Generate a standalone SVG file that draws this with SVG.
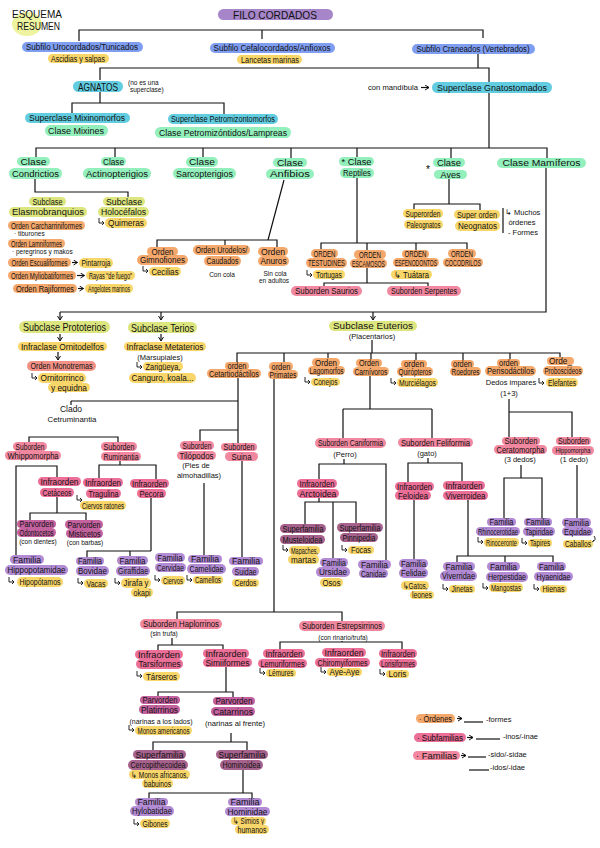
<svg xmlns="http://www.w3.org/2000/svg" width="600" height="848" viewBox="0 0 600 848">
<style>
text{font-family:"Liberation Sans Narrow","Liberation Sans",Arial,sans-serif;font-size:8.5px;fill:#111;text-anchor:middle}
.l{text-anchor:start}
.s{font-size:6.5px}
.m{font-size:7.5px}
.b{font-size:10.5px}
.pu{fill:#a685c9}.bl{fill:#7f9ef2}.ye{fill:#f9d66a}.cy{fill:#62cde0}.mi{fill:#93f0bc}.yg{fill:#dde67e}
.or{fill:#f5a86c}.sa{fill:#f39187}.p1{fill:#f1889f}.p2{fill:#ec6f98}.pv{fill:#c4619f}.sf{fill:#a6628c}.fa{fill:#b28bd4}
.c{fill:none;stroke:#111;stroke-width:1.2}
.h{fill:none;stroke:#111;stroke-width:0.9}
</style>
<defs>
<marker id="ar" viewBox="0 0 6 6" refX="5" refY="3" markerWidth="5" markerHeight="5" orient="auto"><path d="M1,0.5 L5,3 L1,5.5" fill="none" stroke="#111" stroke-width="1"/></marker>
<symbol id="hk" overflow="visible"><path class="h" d="M0,-5 V0 H5 M3,-2 L5,0 L3,2"/></symbol>
</defs>
<rect width="600" height="848" fill="#fff"/>

<g id="title">
<ellipse cx="27" cy="24" rx="15" ry="12" fill="#eef3a0"/>
<text class="l b" x="12" y="18" textLength="50" lengthAdjust="spacingAndGlyphs">ESQUEMA</text>
<text class="l b" x="17" y="30" textLength="43" lengthAdjust="spacingAndGlyphs">RESUMEN</text>
</g>

<g id="connectors">
<path class="c" d="M79,41 V30 H483 V38 M262,30 V39"/>
<path class="c" d="M478,54 V68 M100,80 V68 H489 V82"/>
<path class="c" d="M100,92 V103 M72,113 V103 H224 V114"/>
<path class="c" d="M489,93 V148 M36,157 V148 H547 V158 M115,148 V157 M203,148 V157 M291,148 V158 M357,148 V157 M451,148 V158"/>
<path class="c" d="M35,179 V192 H128 V197"/>
<path class="c" d="M284,180 L268,240 M157,247 V240 H277 V247 M225,240 V245"/>
<path class="c" d="M357,178 V243 M321,249 V243 H467 V249 M367,243 V250 M416,243 V250"/>
<path class="c" d="M367,267 V283 M324,287 V283 H428 V287"/>
<path class="c" d="M449,179 V204 M414,209 V204 H480 V210"/>
<path class="c" d="M503,208 V233"/>
<path class="c" d="M546,168 V312 H60"/>
<path class="c" d="M60,312 V320" marker-end="url(#ar)"/>
<path class="c" d="M161,312 V320" marker-end="url(#ar)"/>
<path class="c" d="M373,312 V320" marker-end="url(#ar)"/>
<path class="c" d="M60,334 V341" marker-end="url(#ar)"/>
<path class="c" d="M58,352 V360" marker-end="url(#ar)"/>
<path class="c" d="M161,334 V341" marker-end="url(#ar)"/>
<path class="c" d="M72,262.5 H77.5" marker-end="url(#ar)"/>
<path class="c" d="M77,275.5 H84.5" marker-end="url(#ar)"/>
<path class="c" d="M78,288.5 H83.5" marker-end="url(#ar)"/>
<path class="c" d="M421,87.5 H429" marker-end="url(#ar)"/>
<path class="c" d="M372,340 V353 M237,362 V353 H560 V358 M284,353 V362 M328,353 V358 M371,353 V359 M416,353 V360 M463,353 V360 M510,353 V359"/>
<path class="c" d="M238,378 V443 M71,401 H238 M71,401 V405 M200,441 V430 H238"/>
<path class="c" d="M29,442 V437 H118 V442"/>
<path class="c" d="M16,555 V466 H57 V477 M57,497 V513 M30,520 V513 H86 V520"/>
<path class="c" d="M120,461 V465 M99,478 V465 H156 V479"/>
<path class="c" d="M151,498 V551 M87,557 V551 H151 M130,551 V556"/>
<path class="c" d="M204,483 V555 M242,461 V557"/>
<path class="c" d="M274,379 V612 M177,620 V612 H342 V621"/>
<path class="c" d="M172,638 V645 M158,650 V645 H223 V649 M226,667 V692 M158,696 V692 H233 V697"/>
<path class="c" d="M231,733 V742 M153,750 V742 H247 V750 M243,770 V793 M149,798 V793 H252 V798"/>
<path class="c" d="M342,641 V642 M280,649 V642 H402 V649"/>
<path class="c" d="M370,376 V409 M343,409 H432 M343,409 V438 M432,409 V438"/>
<path class="c" d="M344,459 V464 M319,479 V464 H386 V560 M319,498 V502 M305,524 V502 H356 V523 M333,502 V558"/>
<path class="c" d="M428,458 V463 M408,482 V463 H462 V481 M414,500 V559"/>
<path class="c" d="M468,500 V556 M457,562 V556 H553 V562 M505,556 V562"/>
<path class="c" d="M509,399 V437 M509,412 H572 V437 M521,465 V478 M504,518 V478 H542 V518 M577,465 V518"/>
<path class="h" d="M594,536 q3,4 -2,6 M590,540 l2,2 l2,-2"/>
<path class="c" d="M457,718.5 H462" marker-end="url(#ar)"/>
<path class="c" d="M467,737.5 H473" marker-end="url(#ar)"/>
<path class="c" d="M461,755.5 H466" marker-end="url(#ar)"/>
</g>

<g id="n-filo"><rect class="pu" x="218" y="9" width="115" height="11" rx="5.5"/><text class="b" x="275" y="18.5" textLength="84" lengthAdjust="spacingAndGlyphs">FILO CORDADOS</text></g>
<g id="n-uro"><rect class="bl" x="22" y="42" width="121" height="10" rx="5"/><text x="82" y="50" textLength="112" lengthAdjust="spacingAndGlyphs">Subfilo Urocordados/Tunicados</text></g>
<g id="n-ascidias"><rect class="ye" x="48" y="54" width="61" height="9" rx="4.5"/><text x="78" y="61.5" textLength="54" lengthAdjust="spacingAndGlyphs">Ascidias y salpas</text></g>
<g id="n-cefalo"><rect class="bl" x="210" y="43" width="125" height="10" rx="5"/><text x="272" y="51" textLength="117" lengthAdjust="spacingAndGlyphs">Subfilo Cefalocordados/Anfioxos</text></g>
<g id="n-lancetas"><rect class="ye" x="237" y="55" width="65" height="9" rx="4.5"/><text x="270" y="62.5" textLength="58" lengthAdjust="spacingAndGlyphs">Lancetas marinas</text></g>
<g id="n-craneados"><rect class="bl" x="412" y="44" width="123" height="10" rx="5"/><text x="473" y="52" textLength="113" lengthAdjust="spacingAndGlyphs">Subfilo Craneados (Vertebrados)</text></g>

<g id="n-agnatos"><rect class="cy" x="73" y="81" width="50" height="11" rx="5.5"/><text class="b" x="98" y="90.5" textLength="40" lengthAdjust="spacingAndGlyphs">AGNATOS</text>
<text class="l s" x="128" y="85">(no es una</text><text class="l s" x="130" y="92">superclase)</text></g>
<g id="n-gnato"><text class="l m" x="368" y="90" textLength="50" lengthAdjust="spacingAndGlyphs">con mandíbula</text><rect class="cy" x="432" y="82" width="120" height="11" rx="5.5"/><text x="492" y="91" textLength="110" lengthAdjust="spacingAndGlyphs">Superclase Gnatostomados</text></g>
<g id="n-mixino"><rect class="cy" x="25" y="113" width="105" height="10" rx="5"/><text x="77" y="121" textLength="96" lengthAdjust="spacingAndGlyphs">Superclase Mixinomorfos</text>
<rect class="mi" x="45" y="125" width="63" height="11" rx="5.5"/><text x="76" y="133.5" textLength="56" lengthAdjust="spacingAndGlyphs">Clase Mixines</text></g>
<g id="n-petro"><rect class="cy" x="168" y="114" width="110" height="10" rx="5"/><text x="223" y="122" textLength="104" lengthAdjust="spacingAndGlyphs">Superclase Petromizontomorfos</text>
<rect class="mi" x="155" y="127" width="136" height="11" rx="5.5"/><text x="223" y="135.5" textLength="128" lengthAdjust="spacingAndGlyphs">Clase Petromizóntidos/Lampreas</text></g>

<g id="n-condrictios"><rect class="mi" x="17" y="157" width="33" height="9" rx="4.5"/><text x="33.5" y="164.5" textLength="26" lengthAdjust="spacingAndGlyphs">Clase</text>
<rect class="mi" x="9" y="168" width="53" height="11" rx="5.5"/><text x="35.5" y="176.5" textLength="47" lengthAdjust="spacingAndGlyphs">Condrictios</text></g>
<g id="n-actino"><rect class="mi" x="101" y="157" width="25" height="9" rx="4.5"/><text x="113.5" y="164.5" textLength="21" lengthAdjust="spacingAndGlyphs">Clase</text>
<rect class="mi" x="83" y="168" width="68" height="11" rx="5.5"/><text x="117" y="176.5" textLength="62" lengthAdjust="spacingAndGlyphs">Actinopterigios</text></g>
<g id="n-sarco"><rect class="mi" x="186" y="157" width="32" height="10" rx="5"/><text x="202" y="165" textLength="26" lengthAdjust="spacingAndGlyphs">Clase</text>
<rect class="mi" x="173" y="168" width="63" height="11" rx="5.5"/><text x="204.5" y="176.5" textLength="57" lengthAdjust="spacingAndGlyphs">Sarcopterigios</text></g>
<g id="n-anfibios"><rect class="mi" x="273" y="158" width="34" height="9" rx="4.5"/><text x="290" y="165.5" textLength="26" lengthAdjust="spacingAndGlyphs">Clase</text>
<rect class="mi" x="266" y="169" width="48" height="10" rx="5"/><text x="290" y="177" textLength="40" lengthAdjust="spacingAndGlyphs">Anfibios</text></g>
<g id="n-reptiles"><rect class="mi" x="339" y="157" width="35" height="9" rx="4.5"/><text x="356.5" y="164.5" textLength="30" lengthAdjust="spacingAndGlyphs">* Clase</text>
<rect class="mi" x="340" y="168" width="34" height="10" rx="5"/><text x="357" y="176" textLength="28" lengthAdjust="spacingAndGlyphs">Reptiles</text></g>
<g id="n-aves"><text class="b" x="428" y="173">*</text><rect class="mi" x="433" y="158" width="32" height="9" rx="4.5"/><text x="449" y="165.5" textLength="24" lengthAdjust="spacingAndGlyphs">Clase</text>
<rect class="mi" x="434" y="170" width="33" height="9" rx="4.5"/><text x="450.5" y="177.5" textLength="20" lengthAdjust="spacingAndGlyphs">Aves</text></g>
<g id="n-mamiferos"><rect class="mi" x="497" y="158" width="89" height="10" rx="5"/><text x="541.5" y="166" textLength="78" lengthAdjust="spacingAndGlyphs">Clase Mamíferos</text></g>

<g id="n-elasmo"><rect class="yg" x="29" y="197" width="37" height="9" rx="4.5"/><text x="47.5" y="204.5" textLength="30" lengthAdjust="spacingAndGlyphs">Subclase</text>
<rect class="yg" x="9" y="207" width="78" height="10" rx="5"/><text x="48" y="215" textLength="72" lengthAdjust="spacingAndGlyphs">Elasmobranquios</text></g>
<g id="n-holo"><rect class="yg" x="103" y="197" width="42" height="9" rx="4.5"/><text x="124" y="204.5" textLength="36" lengthAdjust="spacingAndGlyphs">Subclase</text>
<rect class="yg" x="98" y="207" width="51" height="10" rx="5"/><text x="123.5" y="215" textLength="45" lengthAdjust="spacingAndGlyphs">Holocéfalos</text>
<use href="#hk" x="99" y="223"/><rect class="ye" x="105" y="218" width="42" height="10" rx="5"/><text x="126" y="226" textLength="36" lengthAdjust="spacingAndGlyphs">Quimeras</text></g>

<g id="n-carcharr"><rect class="or" x="8" y="221" width="77" height="9" rx="4.5"/><text x="46.5" y="228.5" textLength="71" lengthAdjust="spacingAndGlyphs">Orden Carcharriniformes</text>
<text class="l s" x="14" y="236">· tiburones</text></g>
<g id="n-lamni"><rect class="or" x="8" y="239" width="57" height="9" rx="4.5"/><text x="36.5" y="246.5" textLength="51" lengthAdjust="spacingAndGlyphs">Orden Lamniformes</text>
<text class="l s" x="12" y="254">· peregrinos y makos</text></g>
<g id="n-escuali"><rect class="or" x="8" y="258" width="63" height="9" rx="4.5"/><text x="39.5" y="265.5" textLength="56" lengthAdjust="spacingAndGlyphs">Orden Escualiformes</text>
<rect class="ye" x="79" y="258" width="34" height="10" rx="5"/><text x="96" y="266" textLength="29" lengthAdjust="spacingAndGlyphs">Pintarroja</text></g>
<g id="n-mylio"><rect class="or" x="8" y="271" width="68" height="9" rx="4.5"/><text x="42" y="278.5" textLength="62" lengthAdjust="spacingAndGlyphs">Orden Myliobatiformes</text>
<rect class="ye" x="86" y="271" width="49" height="9" rx="4.5"/><text x="110.5" y="278.5" textLength="43" lengthAdjust="spacingAndGlyphs">Rayas "de fuego"</text></g>
<g id="n-raji"><rect class="or" x="13" y="284" width="64" height="9" rx="4.5"/><text x="45" y="291.5" textLength="58" lengthAdjust="spacingAndGlyphs">Orden Rajiformes</text>
<rect class="ye" x="85" y="284" width="48" height="9" rx="4.5"/><text x="109" y="291.5" textLength="42" lengthAdjust="spacingAndGlyphs">Angelotes marinos</text></g>

<g id="n-gimno"><rect class="or" x="147" y="247" width="31" height="9" rx="4.5"/><text x="162.5" y="254.5" textLength="22" lengthAdjust="spacingAndGlyphs">Orden</text>
<rect class="or" x="137" y="255" width="51" height="10" rx="5"/><text x="162.5" y="263" textLength="45" lengthAdjust="spacingAndGlyphs">Gimnofiones</text>
<use href="#hk" x="143" y="271"/><rect class="ye" x="149" y="267" width="32" height="9" rx="4.5"/><text x="165" y="274.5" textLength="27" lengthAdjust="spacingAndGlyphs">Cecilias</text></g>
<g id="n-urodelos"><rect class="or" x="193" y="245" width="57" height="10" rx="5"/><text x="221.5" y="253" textLength="52" lengthAdjust="spacingAndGlyphs">Orden Urodelos/</text>
<rect class="or" x="204" y="256" width="37" height="10" rx="5"/><text x="222.5" y="264" textLength="32" lengthAdjust="spacingAndGlyphs">Caudados</text>
<text class="s" x="222" y="277">Con cola</text></g>
<g id="n-anuros"><rect class="or" x="258" y="247" width="30" height="9" rx="4.5"/><text x="273" y="254.5" textLength="24" lengthAdjust="spacingAndGlyphs">Orden</text>
<rect class="or" x="258" y="256" width="31" height="10" rx="5"/><text x="273.5" y="264" textLength="26" lengthAdjust="spacingAndGlyphs">Anuros</text>
<text class="s" x="275" y="276">Sin cola</text><text class="s" x="274" y="283">en adultos</text></g>

<g id="n-testudines"><rect class="or" x="311" y="249" width="27" height="9" rx="4.5"/><text x="324.5" y="256.5" textLength="22" lengthAdjust="spacingAndGlyphs">ORDEN</text>
<rect class="or" x="306" y="258" width="41" height="10" rx="5"/><text x="326.5" y="266" textLength="37" lengthAdjust="spacingAndGlyphs">TESTUDINES</text>
<use href="#hk" x="307" y="275"/><rect class="ye" x="313" y="270" width="32" height="9" rx="4.5"/><text x="329" y="277.5" textLength="26" lengthAdjust="spacingAndGlyphs">Tortugas</text></g>
<g id="n-escamosos"><rect class="or" x="354" y="250" width="32" height="9" rx="4.5"/><text x="370" y="257.5" textLength="22" lengthAdjust="spacingAndGlyphs">ORDEN</text>
<rect class="or" x="350" y="259" width="37" height="9" rx="4.5"/><text x="368.5" y="266.5" textLength="33" lengthAdjust="spacingAndGlyphs">ESCAMOSOS</text></g>
<g id="n-esfeno"><rect class="or" x="402" y="250" width="27" height="8" rx="4"/><text x="415.5" y="257" textLength="22" lengthAdjust="spacingAndGlyphs">ORDEN</text>
<rect class="or" x="393" y="258" width="46" height="9" rx="4.5"/><text x="416" y="265.5" textLength="42" lengthAdjust="spacingAndGlyphs">ESFENODONTOS</text>
<rect class="ye" x="391" y="270" width="41" height="9" rx="4.5"/><text x="411.5" y="277.5" textLength="35" lengthAdjust="spacingAndGlyphs">↳ Tuátara</text></g>
<g id="n-cocodrilos"><rect class="or" x="448" y="249" width="28" height="9" rx="4.5"/><text x="462" y="256.5" textLength="22" lengthAdjust="spacingAndGlyphs">ORDEN</text>
<rect class="or" x="443" y="258" width="40" height="9" rx="4.5"/><text x="463" y="265.5" textLength="36" lengthAdjust="spacingAndGlyphs">COCODRILOS</text></g>
<g id="n-saurios"><rect class="p1" x="291" y="286" width="71" height="10" rx="5"/><text x="326.5" y="294" textLength="63" lengthAdjust="spacingAndGlyphs">Suborden Saurios</text></g>
<g id="n-serpentes"><rect class="p1" x="387" y="286" width="74" height="10" rx="5"/><text x="424" y="294" textLength="66" lengthAdjust="spacingAndGlyphs">Suborden Serpentes</text></g>

<g id="n-paleo"><rect class="ye" x="403" y="209" width="40" height="9" rx="4.5"/><text x="423" y="216.5" textLength="35" lengthAdjust="spacingAndGlyphs">Superorden</text>
<rect class="ye" x="404" y="220" width="39" height="9" rx="4.5"/><text x="423.5" y="227.5" textLength="34" lengthAdjust="spacingAndGlyphs">Paleognatos</text></g>
<g id="n-neo"><rect class="ye" x="454" y="210" width="46" height="9" rx="4.5"/><text x="477" y="217.5" textLength="40" lengthAdjust="spacingAndGlyphs">Super orden</text>
<rect class="ye" x="455" y="221" width="45" height="10" rx="5"/><text x="477.5" y="229" textLength="39" lengthAdjust="spacingAndGlyphs">Neognatos</text>
<text class="l m" x="505" y="215">↳ Muchos</text><text class="m" x="522" y="225">órdenes</text><text class="l m" x="508" y="235">- Formes</text></g>

<g id="n-proto"><rect class="yg" x="19" y="321" width="91" height="12" rx="6"/><text class="b" x="64.5" y="331" textLength="83" lengthAdjust="spacingAndGlyphs">Subclase Prototerios</text></g>
<g id="n-ornito"><rect class="ye" x="18" y="342" width="89" height="9" rx="4.5"/><text x="62.5" y="349.5" textLength="83" lengthAdjust="spacingAndGlyphs">Infraclase Ornitodelfos</text></g>
<g id="n-monotremas"><rect class="sa" x="27" y="361" width="69" height="10" rx="5"/><text x="61.5" y="369" textLength="62" lengthAdjust="spacingAndGlyphs">Orden Monotremas</text>
<use href="#hk" x="32" y="378"/><rect class="ye" x="38" y="373" width="48" height="10" rx="5"/><text x="62" y="381" textLength="43" lengthAdjust="spacingAndGlyphs">Ornitorrinco</text>
<rect class="ye" x="48" y="383" width="42" height="9" rx="4.5"/><text x="69" y="390.5" textLength="36" lengthAdjust="spacingAndGlyphs">y equidna</text></g>
<g id="n-terios"><rect class="yg" x="128" y="322" width="69" height="11" rx="5.5"/><text class="b" x="162.5" y="331.5" textLength="63" lengthAdjust="spacingAndGlyphs">Subclase Terios</text></g>
<g id="n-meta"><rect class="ye" x="124" y="342" width="82" height="9" rx="4.5"/><text x="165" y="349.5" textLength="77" lengthAdjust="spacingAndGlyphs">Infraclase Metaterios</text>
<text class="m" x="160" y="360">(Marsupiales)</text>
<use href="#hk" x="137" y="367"/><rect class="ye" x="143" y="362" width="40" height="9" rx="4.5"/><text x="163" y="369.5" textLength="35" lengthAdjust="spacingAndGlyphs">Zarigüeya,</text>
<rect class="ye" x="129" y="373" width="67" height="10" rx="5"/><text x="162.5" y="381" textLength="62" lengthAdjust="spacingAndGlyphs">Canguro, koala...</text></g>
<g id="n-euterios"><rect class="yg" x="329" y="321" width="88" height="10" rx="5"/><text x="373" y="329" textLength="80" lengthAdjust="spacingAndGlyphs">Subclase Euterios</text>
<text class="m" x="372" y="339">(Placentarios)</text></g>

<g id="n-cetartio"><rect class="or" x="225" y="362" width="24" height="8" rx="4"/><text x="237" y="368.5" textLength="19" lengthAdjust="spacingAndGlyphs">orden</text>
<rect class="or" x="207" y="369" width="54" height="9" rx="4.5"/><text x="234" y="376.5" textLength="50" lengthAdjust="spacingAndGlyphs">Cetartiodáctilos</text></g>
<g id="n-primates"><rect class="or" x="269" y="362" width="24" height="9" rx="4.5"/><text x="281" y="369.5" textLength="19" lengthAdjust="spacingAndGlyphs">orden</text>
<rect class="or" x="268" y="370" width="30" height="9" rx="4.5"/><text x="283" y="377.5" textLength="27" lengthAdjust="spacingAndGlyphs">Primates</text></g>
<g id="n-lago"><rect class="or" x="312" y="358" width="28" height="9" rx="4.5"/><text x="326" y="365.5" textLength="22" lengthAdjust="spacingAndGlyphs">Orden</text>
<rect class="or" x="308" y="366" width="37" height="9" rx="4.5"/><text x="326.5" y="373.5" textLength="34" lengthAdjust="spacingAndGlyphs">Lagomorfos</text>
<use href="#hk" x="305" y="382"/><rect class="ye" x="311" y="378" width="29" height="8" rx="4"/><text x="325.5" y="384.5" textLength="24" lengthAdjust="spacingAndGlyphs">Conejos</text></g>
<g id="n-carnivoros"><rect class="or" x="356" y="359" width="26" height="8" rx="4"/><text x="369" y="365.5" textLength="20" lengthAdjust="spacingAndGlyphs">Orden</text>
<rect class="or" x="353" y="367" width="36" height="9" rx="4.5"/><text x="371" y="374.5" textLength="33" lengthAdjust="spacingAndGlyphs">Carnívoros</text></g>
<g id="n-quiro"><rect class="or" x="401" y="360" width="26" height="8" rx="4"/><text x="414" y="366.5" textLength="20" lengthAdjust="spacingAndGlyphs">orden</text>
<rect class="or" x="397" y="367" width="36" height="9" rx="4.5"/><text x="415" y="374.5" textLength="33" lengthAdjust="spacingAndGlyphs">Quirópteros</text>
<use href="#hk" x="391" y="383"/><rect class="ye" x="397" y="378" width="41" height="9" rx="4.5"/><text x="417.5" y="385.5" textLength="37" lengthAdjust="spacingAndGlyphs">Murciélagos</text></g>
<g id="n-roedores"><rect class="or" x="451" y="360" width="23" height="8" rx="4"/><text x="462.5" y="366.5" textLength="19" lengthAdjust="spacingAndGlyphs">orden</text>
<rect class="or" x="450" y="367" width="31" height="9" rx="4.5"/><text x="465.5" y="374.5" textLength="28" lengthAdjust="spacingAndGlyphs">Roedores</text></g>
<g id="n-periso"><rect class="or" x="497" y="359" width="23" height="8" rx="4"/><text x="508.5" y="365.5" textLength="19" lengthAdjust="spacingAndGlyphs">orden</text>
<rect class="or" x="485" y="366" width="51" height="10" rx="5"/><text x="510.5" y="374" textLength="47" lengthAdjust="spacingAndGlyphs">Perisodáctilos</text>
<text class="m" x="511" y="385">Dedos impares</text><text class="m" x="509" y="396">(1+3)</text></g>
<g id="n-probo"><rect class="or" x="547" y="357" width="27" height="8" rx="4"/><text x="560.5" y="363.5" textLength="23" lengthAdjust="spacingAndGlyphs">Orde_</text>
<rect class="or" x="543" y="366" width="40" height="10" rx="5"/><text x="563" y="374" textLength="37" lengthAdjust="spacingAndGlyphs">Proboscídeos</text>
<use href="#hk" x="539" y="383"/><rect class="ye" x="546" y="378" width="32" height="9" rx="4.5"/><text x="562" y="385.5" textLength="28" lengthAdjust="spacingAndGlyphs">Elefantes</text></g>

<g id="n-clado"><text x="71" y="412">Clado</text><text class="m" x="72" y="422" textLength="49" lengthAdjust="spacingAndGlyphs">Cetruminantia</text></g>
<g id="n-whippo"><rect class="p1" x="13" y="442" width="34" height="9" rx="4.5"/><text x="30" y="449.5" textLength="29" lengthAdjust="spacingAndGlyphs">Suborden</text>
<rect class="p1" x="5" y="451" width="56" height="9" rx="4.5"/><text x="33" y="458.5" textLength="51" lengthAdjust="spacingAndGlyphs">Whippomorpha</text></g>
<g id="n-rumin"><rect class="p1" x="101" y="442" width="36" height="9" rx="4.5"/><text x="119" y="449.5" textLength="31" lengthAdjust="spacingAndGlyphs">Suborden</text>
<rect class="p1" x="101" y="452" width="40" height="9" rx="4.5"/><text x="121" y="459.5" textLength="35" lengthAdjust="spacingAndGlyphs">Ruminantia</text></g>
<g id="n-cetaceos"><rect class="p2" x="38" y="477" width="43" height="9" rx="4.5"/><text x="59.5" y="484.5" textLength="38" lengthAdjust="spacingAndGlyphs">Infraorden</text>
<rect class="p2" x="40" y="488" width="34" height="9" rx="4.5"/><text x="57" y="495.5" textLength="29" lengthAdjust="spacingAndGlyphs">Cetáceos</text></g>
<g id="n-odonto"><rect class="pv" x="17" y="520" width="39" height="8" rx="4"/><text x="36.5" y="526.5" textLength="34" lengthAdjust="spacingAndGlyphs">Parvorden</text>
<rect class="pv" x="17" y="528" width="39" height="9" rx="4.5"/><text x="36.5" y="535.5" textLength="34" lengthAdjust="spacingAndGlyphs">Odontocetos</text>
<text class="s" x="38" y="544">(con dientes)</text></g>
<g id="n-mistic"><rect class="pv" x="65" y="520" width="38" height="9" rx="4.5"/><text x="84" y="527.5" textLength="33" lengthAdjust="spacingAndGlyphs">Parvorden</text>
<rect class="pv" x="66" y="529" width="37" height="9" rx="4.5"/><text x="84.5" y="536.5" textLength="32" lengthAdjust="spacingAndGlyphs">Misticetos</text>
<text class="s" x="85" y="545">(con barbas)</text></g>
<g id="n-hippo"><rect class="fa" x="10" y="555" width="34" height="9" rx="4.5"/><text x="27" y="562.5" textLength="28" lengthAdjust="spacingAndGlyphs">Familia</text>
<rect class="fa" x="5" y="565" width="63" height="10" rx="5"/><text x="36.5" y="573" textLength="58" lengthAdjust="spacingAndGlyphs">Hippopotamidae</text>
<use href="#hk" x="9" y="582"/><rect class="ye" x="17" y="577" width="46" height="10" rx="5"/><text x="40" y="585" textLength="41" lengthAdjust="spacingAndGlyphs">Hipopótamos</text></g>
<g id="n-tragulina"><rect class="p2" x="83" y="478" width="40" height="9" rx="4.5"/><text x="103" y="485.5" textLength="36" lengthAdjust="spacingAndGlyphs">Infraorden</text>
<rect class="p2" x="86" y="489" width="35" height="9" rx="4.5"/><text x="103.5" y="496.5" textLength="30" lengthAdjust="spacingAndGlyphs">Tragulina</text>
<use href="#hk" x="77" y="500"/><rect class="ye" x="80" y="501" width="46" height="9" rx="4.5"/><text x="103" y="508.5" textLength="42" lengthAdjust="spacingAndGlyphs">Ciervos ratones</text></g>
<g id="n-pecora"><rect class="p2" x="130" y="479" width="39" height="9" rx="4.5"/><text x="149.5" y="486.5" textLength="35" lengthAdjust="spacingAndGlyphs">Infraorden</text>
<rect class="p2" x="137" y="489" width="29" height="9" rx="4.5"/><text x="151.5" y="496.5" textLength="24" lengthAdjust="spacingAndGlyphs">Pecora</text></g>
<g id="n-bovidae"><rect class="fa" x="76" y="557" width="28" height="8" rx="4"/><text x="90" y="563.5" textLength="24" lengthAdjust="spacingAndGlyphs">Familia</text>
<rect class="fa" x="76" y="566" width="33" height="10" rx="5"/><text x="92.5" y="574" textLength="29" lengthAdjust="spacingAndGlyphs">Bovidae</text>
<use href="#hk" x="78" y="583"/><rect class="ye" x="84" y="579" width="24" height="9" rx="4.5"/><text x="96" y="586.5" textLength="19" lengthAdjust="spacingAndGlyphs">Vacas</text></g>
<g id="n-giraff"><rect class="fa" x="117" y="556" width="31" height="9" rx="4.5"/><text x="132.5" y="563.5" textLength="26" lengthAdjust="spacingAndGlyphs">Familia</text>
<rect class="fa" x="116" y="566" width="34" height="10" rx="5"/><text x="133" y="574" textLength="30" lengthAdjust="spacingAndGlyphs">Giraffidae</text>
<use href="#hk" x="115" y="583"/><rect class="ye" x="121" y="578" width="30" height="10" rx="5"/><text x="136" y="586" textLength="25" lengthAdjust="spacingAndGlyphs">Jirafa y</text>
<rect class="ye" x="131" y="588" width="22" height="9" rx="4.5"/><text x="142" y="595.5" textLength="17" lengthAdjust="spacingAndGlyphs">okapi</text></g>
<g id="n-cervidae"><rect class="fa" x="155" y="553" width="30" height="9" rx="4.5"/><text x="170" y="560.5" textLength="25" lengthAdjust="spacingAndGlyphs">Familia</text>
<rect class="fa" x="155" y="563" width="31" height="9" rx="4.5"/><text x="170.5" y="570.5" textLength="27" lengthAdjust="spacingAndGlyphs">Cervidae</text>
<use href="#hk" x="155" y="580"/><rect class="ye" x="161" y="576" width="24" height="9" rx="4.5"/><text x="173" y="583.5" textLength="20" lengthAdjust="spacingAndGlyphs">Ciervos</text></g>
<g id="n-tilopodos"><rect class="p1" x="180" y="441" width="34" height="9" rx="4.5"/><text x="197" y="448.5" textLength="29" lengthAdjust="spacingAndGlyphs">Suborden</text>
<rect class="p1" x="177" y="451" width="39" height="9" rx="4.5"/><text x="196.5" y="458.5" textLength="34" lengthAdjust="spacingAndGlyphs">Tilópodos</text>
<text class="m" x="196" y="468">(Pies de</text><text class="m" x="199" y="478">almohadillas)</text></g>
<g id="n-camel"><rect class="fa" x="188" y="555" width="34" height="8" rx="4"/><text x="205" y="561.5" textLength="28" lengthAdjust="spacingAndGlyphs">Familia</text>
<rect class="fa" x="187" y="564" width="39" height="10" rx="5"/><text x="206.5" y="572" textLength="34" lengthAdjust="spacingAndGlyphs">Camelidae</text>
<use href="#hk" x="187" y="580"/><rect class="ye" x="193" y="576" width="30" height="8" rx="4"/><text x="208" y="582.5" textLength="26" lengthAdjust="spacingAndGlyphs">Camellos</text></g>
<g id="n-suina"><rect class="p1" x="221" y="443" width="36" height="8" rx="4"/><text x="239" y="449.5" textLength="31" lengthAdjust="spacingAndGlyphs">Suborden</text>
<rect class="p1" x="225" y="452" width="33" height="9" rx="4.5"/><text x="241.5" y="459.5" textLength="20" lengthAdjust="spacingAndGlyphs">Suina</text></g>
<g id="n-suidae"><rect class="fa" x="229" y="557" width="34" height="8" rx="4"/><text x="246" y="563.5" textLength="28" lengthAdjust="spacingAndGlyphs">Familia</text>
<rect class="fa" x="232" y="567" width="27" height="9" rx="4.5"/><text x="245.5" y="574.5" textLength="22" lengthAdjust="spacingAndGlyphs">Suidae</text>
<rect class="ye" x="232" y="579" width="27" height="8" rx="4"/><text x="245.5" y="585.5" textLength="22" lengthAdjust="spacingAndGlyphs">Cerdos</text></g>

<g id="n-caniformia"><rect class="p1" x="315" y="438" width="71" height="10" rx="5"/><text x="350.5" y="446" textLength="65" lengthAdjust="spacingAndGlyphs">Suborden Caniformia</text>
<text class="m" x="345" y="457">(Perro)</text></g>
<g id="n-feliformia"><rect class="p1" x="398" y="438" width="75" height="9" rx="4.5"/><text x="435.5" y="445.5" textLength="69" lengthAdjust="spacingAndGlyphs">Suborden Feliformia</text>
<text class="m" x="427" y="456">(gato)</text></g>
<g id="n-arctoidea"><rect class="p2" x="297" y="479" width="40" height="9" rx="4.5"/><text x="317" y="486.5" textLength="35" lengthAdjust="spacingAndGlyphs">Infraorden</text>
<rect class="p2" x="297" y="489" width="42" height="9" rx="4.5"/><text x="318" y="496.5" textLength="37" lengthAdjust="spacingAndGlyphs">Arctoidea</text></g>
<g id="n-mustel"><rect class="sf" x="280" y="524" width="46" height="9" rx="4.5"/><text x="303" y="531.5" textLength="41" lengthAdjust="spacingAndGlyphs">Superfamilia</text>
<rect class="sf" x="280" y="535" width="45" height="9" rx="4.5"/><text x="302.5" y="542.5" textLength="40" lengthAdjust="spacingAndGlyphs">Musteloidea</text>
<use href="#hk" x="283" y="550"/><rect class="ye" x="289" y="546" width="31" height="9" rx="4.5"/><text x="304.5" y="553.5" textLength="27" lengthAdjust="spacingAndGlyphs">Mapaches,</text>
<rect class="ye" x="288" y="555" width="31" height="9" rx="4.5"/><text x="303.5" y="562.5" textLength="25" lengthAdjust="spacingAndGlyphs">martas</text></g>
<g id="n-pinni"><rect class="sf" x="337" y="523" width="46" height="9" rx="4.5"/><text x="360" y="530.5" textLength="41" lengthAdjust="spacingAndGlyphs">Superfamilia</text>
<rect class="sf" x="340" y="533" width="38" height="9" rx="4.5"/><text x="359" y="540.5" textLength="33" lengthAdjust="spacingAndGlyphs">Pinnipedia</text>
<use href="#hk" x="342" y="550"/><rect class="ye" x="348" y="546" width="26" height="8" rx="4"/><text x="361" y="552.5" textLength="20" lengthAdjust="spacingAndGlyphs">Focas</text></g>
<g id="n-ursidae"><rect class="fa" x="320" y="558" width="28" height="9" rx="4.5"/><text x="334" y="565.5" textLength="24" lengthAdjust="spacingAndGlyphs">Familia</text>
<rect class="fa" x="316" y="567" width="34" height="10" rx="5"/><text x="333" y="575" textLength="28" lengthAdjust="spacingAndGlyphs">Ursidae</text>
<rect class="ye" x="320" y="578" width="23" height="9" rx="4.5"/><text x="331.5" y="585.5" textLength="18" lengthAdjust="spacingAndGlyphs">Osos</text></g>
<g id="n-canidae"><rect class="fa" x="358" y="560" width="33" height="9" rx="4.5"/><text x="374.5" y="567.5" textLength="27" lengthAdjust="spacingAndGlyphs">Familia</text>
<rect class="fa" x="359" y="569" width="29" height="9" rx="4.5"/><text x="373.5" y="576.5" textLength="25" lengthAdjust="spacingAndGlyphs">Canidae</text></g>
<g id="n-feloidea"><rect class="p2" x="395" y="482" width="39" height="9" rx="4.5"/><text x="414.5" y="489.5" textLength="35" lengthAdjust="spacingAndGlyphs">Infraorden</text>
<rect class="p2" x="395" y="491" width="36" height="9" rx="4.5"/><text x="413" y="498.5" textLength="30" lengthAdjust="spacingAndGlyphs">Feloidea</text></g>
<g id="n-felidae"><rect class="fa" x="399" y="559" width="29" height="9" rx="4.5"/><text x="413.5" y="566.5" textLength="25" lengthAdjust="spacingAndGlyphs">Familia</text>
<rect class="fa" x="399" y="568" width="29" height="10" rx="5"/><text x="413.5" y="576" textLength="25" lengthAdjust="spacingAndGlyphs">Felidae</text>
<rect class="ye" x="401" y="581" width="28" height="9" rx="4.5"/><text x="415" y="588.5" textLength="25" lengthAdjust="spacingAndGlyphs">↳Gatos,</text>
<rect class="ye" x="410" y="591" width="24" height="8" rx="4"/><text x="422" y="597.5" textLength="20" lengthAdjust="spacingAndGlyphs">leones</text></g>
<g id="n-viverroidea"><rect class="p2" x="443" y="481" width="42" height="9" rx="4.5"/><text x="464" y="488.5" textLength="37" lengthAdjust="spacingAndGlyphs">Infraorden</text>
<rect class="p2" x="443" y="491" width="45" height="9" rx="4.5"/><text x="465.5" y="498.5" textLength="40" lengthAdjust="spacingAndGlyphs">Viverroidea</text></g>
<g id="n-viverridae"><rect class="fa" x="443" y="562" width="32" height="9" rx="4.5"/><text x="459" y="569.5" textLength="27" lengthAdjust="spacingAndGlyphs">Familia</text>
<rect class="fa" x="440" y="571" width="37" height="10" rx="5"/><text x="458.5" y="579" textLength="33" lengthAdjust="spacingAndGlyphs">Viverridae</text>
<use href="#hk" x="443" y="589"/><rect class="ye" x="449" y="585" width="26" height="8" rx="4"/><text x="462" y="591.5" textLength="21" lengthAdjust="spacingAndGlyphs">Jinetas</text></g>
<g id="n-herpest"><rect class="fa" x="487" y="562" width="33" height="9" rx="4.5"/><text x="503.5" y="569.5" textLength="27" lengthAdjust="spacingAndGlyphs">Familia</text>
<rect class="fa" x="486" y="572" width="42" height="10" rx="5"/><text x="507" y="580" textLength="38" lengthAdjust="spacingAndGlyphs">Herpestidae</text>
<use href="#hk" x="483" y="588"/><rect class="ye" x="489" y="583" width="34" height="9" rx="4.5"/><text x="506" y="590.5" textLength="30" lengthAdjust="spacingAndGlyphs">Mangostas</text></g>
<g id="n-hyaen"><rect class="fa" x="537" y="562" width="29" height="9" rx="4.5"/><text x="551.5" y="569.5" textLength="25" lengthAdjust="spacingAndGlyphs">Familia</text>
<rect class="fa" x="534" y="572" width="39" height="9" rx="4.5"/><text x="553.5" y="579.5" textLength="34" lengthAdjust="spacingAndGlyphs">Hyaenidae</text>
<use href="#hk" x="534" y="589"/><rect class="ye" x="540" y="585" width="27" height="8" rx="4"/><text x="553.5" y="591.5" textLength="22" lengthAdjust="spacingAndGlyphs">Hienas</text></g>

<g id="n-cerato"><rect class="p1" x="502" y="437" width="38" height="8" rx="4"/><text x="521" y="443.5" textLength="33" lengthAdjust="spacingAndGlyphs">Suborden</text>
<rect class="p1" x="494" y="445" width="53" height="9" rx="4.5"/><text x="520.5" y="452.5" textLength="48" lengthAdjust="spacingAndGlyphs">Ceratomorpha</text>
<text class="m" x="520" y="462">(3 dedos)</text></g>
<g id="n-hippomor"><rect class="p1" x="556" y="437" width="35" height="8" rx="4"/><text x="573.5" y="443.5" textLength="31" lengthAdjust="spacingAndGlyphs">Suborden</text>
<rect class="p1" x="552" y="446" width="42" height="9" rx="4.5"/><text class="m" x="573" y="453.2" textLength="35" lengthAdjust="spacingAndGlyphs">Hippomorpha</text>
<text class="m" x="574" y="462">(1 dedo)</text></g>
<g id="n-rhino"><rect class="fa" x="487" y="518" width="29" height="8" rx="4"/><text x="501.5" y="524.5" textLength="24" lengthAdjust="spacingAndGlyphs">Familia</text>
<rect class="fa" x="476" y="527" width="44" height="9" rx="4.5"/><text x="498" y="534.5" textLength="40" lengthAdjust="spacingAndGlyphs">Rhinocerotidae</text>
<use href="#hk" x="478" y="542"/><rect class="ye" x="484" y="538" width="35" height="9" rx="4.5"/><text x="501.5" y="545.5" textLength="31" lengthAdjust="spacingAndGlyphs">Rinoceronte</text></g>
<g id="n-tapir"><rect class="fa" x="524" y="518" width="28" height="8" rx="4"/><text x="538" y="524.5" textLength="24" lengthAdjust="spacingAndGlyphs">Familia</text>
<rect class="fa" x="523" y="527" width="32" height="9" rx="4.5"/><text x="539" y="534.5" textLength="28" lengthAdjust="spacingAndGlyphs">Tapiridae</text>
<use href="#hk" x="522" y="543"/><rect class="ye" x="528" y="539" width="24" height="8" rx="4"/><text x="540" y="545.5" textLength="20" lengthAdjust="spacingAndGlyphs">Tapires</text></g>
<g id="n-equidae"><rect class="fa" x="562" y="518" width="29" height="9" rx="4.5"/><text x="576.5" y="525.5" textLength="25" lengthAdjust="spacingAndGlyphs">Familia</text>
<rect class="fa" x="562" y="527" width="31" height="9" rx="4.5"/><text x="577.5" y="534.5" textLength="27" lengthAdjust="spacingAndGlyphs">Equidae</text>
<rect class="ye" x="563" y="540" width="30" height="8" rx="4"/><text x="578" y="546.5" textLength="26" lengthAdjust="spacingAndGlyphs">Caballos</text></g>

<g id="n-haplo"><rect class="p1" x="140" y="619" width="82" height="10" rx="5"/><text x="181" y="627" textLength="76" lengthAdjust="spacingAndGlyphs">Suborden Haplorrinos</text>
<text class="s" x="164" y="636">(sin trufa)</text></g>
<g id="n-estrep"><rect class="p1" x="299" y="621" width="86" height="10" rx="5"/><text x="342" y="629" textLength="80" lengthAdjust="spacingAndGlyphs">Suborden Estrepsirrinos</text>
<text class="s" x="343" y="640">(con rinario/trufa)</text></g>
<g id="n-tarsi"><rect class="p2" x="135" y="650" width="48" height="9" rx="4.5"/><text x="159" y="657.5" textLength="42" lengthAdjust="spacingAndGlyphs">Infraorden</text>
<rect class="p2" x="136" y="659" width="47" height="10" rx="5"/><text x="159.5" y="667" textLength="42" lengthAdjust="spacingAndGlyphs">Tarsiformes</text>
<use href="#hk" x="137" y="676"/><rect class="ye" x="143" y="672" width="37" height="9" rx="4.5"/><text x="161.5" y="679.5" textLength="31" lengthAdjust="spacingAndGlyphs">Társeros</text></g>
<g id="n-simii"><rect class="p2" x="203" y="649" width="46" height="9" rx="4.5"/><text x="226" y="656.5" textLength="41" lengthAdjust="spacingAndGlyphs">Infraorden</text>
<rect class="p2" x="203" y="658" width="49" height="9" rx="4.5"/><text x="227.5" y="665.5" textLength="44" lengthAdjust="spacingAndGlyphs">Simiiformes</text></g>
<g id="n-plati"><rect class="pv" x="140" y="696" width="40" height="8" rx="4"/><text x="160" y="702.5" textLength="35" lengthAdjust="spacingAndGlyphs">Parvorden</text>
<rect class="pv" x="139" y="705" width="41" height="9" rx="4.5"/><text x="159.5" y="712.5" textLength="37" lengthAdjust="spacingAndGlyphs">Platirrinos</text>
<text class="m" x="161" y="724" textLength="63" lengthAdjust="spacingAndGlyphs">(narinas a los lados)</text>
<use href="#hk" x="129" y="730"/><rect class="ye" x="135" y="726" width="57" height="9" rx="4.5"/><text x="163.5" y="733.5" textLength="52" lengthAdjust="spacingAndGlyphs">Monos americanos</text></g>
<g id="n-catarr"><rect class="pv" x="213" y="697" width="42" height="8" rx="4"/><text x="234" y="703.5" textLength="37" lengthAdjust="spacingAndGlyphs">Parvorden</text>
<rect class="pv" x="211" y="707" width="44" height="9" rx="4.5"/><text x="233" y="714.5" textLength="40" lengthAdjust="spacingAndGlyphs">Catarrinos</text>
<text class="m" x="235" y="726" textLength="60" lengthAdjust="spacingAndGlyphs">(narinas al frente)</text></g>
<g id="n-cercop"><rect class="sf" x="133" y="750" width="53" height="9" rx="4.5"/><text x="159.5" y="757.5" textLength="48" lengthAdjust="spacingAndGlyphs">Superfamilia</text>
<rect class="sf" x="128" y="760" width="60" height="10" rx="5"/><text x="158" y="768" textLength="55" lengthAdjust="spacingAndGlyphs">Cercopithecoidea</text>
<rect class="ye" x="129" y="770" width="61" height="9" rx="4.5"/><text x="159.5" y="777.5" textLength="57" lengthAdjust="spacingAndGlyphs">↳ Monos africanos,</text>
<rect class="ye" x="142" y="779" width="31" height="9" rx="4.5"/><text x="157.5" y="786.5" textLength="27" lengthAdjust="spacingAndGlyphs">babuinos</text></g>
<g id="n-homino"><rect class="sf" x="216" y="750" width="52" height="9" rx="4.5"/><text x="242" y="757.5" textLength="47" lengthAdjust="spacingAndGlyphs">Superfamilia</text>
<rect class="sf" x="220" y="760" width="43" height="10" rx="5"/><text x="241.5" y="768" textLength="38" lengthAdjust="spacingAndGlyphs">Hominoidea</text></g>
<g id="n-hylo"><rect class="fa" x="135" y="798" width="33" height="8" rx="4"/><text x="151.5" y="804.5" textLength="28" lengthAdjust="spacingAndGlyphs">Familia</text>
<rect class="fa" x="130" y="806" width="44" height="10" rx="5"/><text x="152" y="814" textLength="40" lengthAdjust="spacingAndGlyphs">Hylobatidae</text>
<use href="#hk" x="134" y="824"/><rect class="ye" x="140" y="819" width="30" height="9" rx="4.5"/><text x="155" y="826.5" textLength="25" lengthAdjust="spacingAndGlyphs">Gibones</text></g>
<g id="n-hominidae"><rect class="fa" x="228" y="798" width="34" height="8" rx="4"/><text x="245" y="804.5" textLength="29" lengthAdjust="spacingAndGlyphs">Familia</text>
<rect class="fa" x="225" y="807" width="45" height="9" rx="4.5"/><text x="247.5" y="814.5" textLength="40" lengthAdjust="spacingAndGlyphs">Hominidae</text>
<rect class="ye" x="231" y="817" width="35" height="8" rx="4"/><text x="248.5" y="823.5" textLength="31" lengthAdjust="spacingAndGlyphs">↳ Simios y</text>
<rect class="ye" x="235" y="825" width="34" height="9" rx="4.5"/><text x="252" y="832.5" textLength="29" lengthAdjust="spacingAndGlyphs">humanos</text></g>
<g id="n-lemur"><rect class="p2" x="263" y="649" width="42" height="9" rx="4.5"/><text x="284" y="656.5" textLength="37" lengthAdjust="spacingAndGlyphs">Infraorden</text>
<rect class="p2" x="258" y="659" width="49" height="9" rx="4.5"/><text x="282.5" y="666.5" textLength="44" lengthAdjust="spacingAndGlyphs">Lemuriformes</text>
<use href="#hk" x="260" y="673"/><rect class="ye" x="266" y="669" width="30" height="8" rx="4"/><text x="281" y="675.5" textLength="25" lengthAdjust="spacingAndGlyphs">Lémures</text></g>
<g id="n-chiro"><rect class="p2" x="322" y="648" width="44" height="9" rx="4.5"/><text x="344" y="655.5" textLength="39" lengthAdjust="spacingAndGlyphs">Infraorden</text>
<rect class="p2" x="315" y="658" width="55" height="9" rx="4.5"/><text x="342.5" y="665.5" textLength="50" lengthAdjust="spacingAndGlyphs">Chiromyiformes</text>
<use href="#hk" x="321" y="672"/><rect class="ye" x="327" y="668" width="35" height="8" rx="4"/><text x="344.5" y="674.5" textLength="30" lengthAdjust="spacingAndGlyphs">Aye-Aye</text></g>
<g id="n-loris"><rect class="p2" x="379" y="649" width="38" height="9" rx="4.5"/><text x="398" y="656.5" textLength="34" lengthAdjust="spacingAndGlyphs">Infraorden</text>
<rect class="p2" x="379" y="659" width="38" height="9" rx="4.5"/><text x="398" y="666.5" textLength="34" lengthAdjust="spacingAndGlyphs">Lorisiformes</text>
<use href="#hk" x="380" y="674"/><rect class="ye" x="386" y="670" width="23" height="8" rx="4"/><text x="397.5" y="676.5" textLength="18" lengthAdjust="spacingAndGlyphs">Loris</text></g>

<g id="legend">
<rect class="or" x="416" y="714" width="39" height="9" rx="4.5"/><text x="435.5" y="721.5" textLength="33" lengthAdjust="spacingAndGlyphs">· Órdenes</text>
<path class="c" d="M464,722 H483"/><text class="l m" x="486" y="722">-formes</text>
<rect class="p2" x="414" y="733" width="52" height="9" rx="4.5"/><text x="440" y="740.5" textLength="46" lengthAdjust="spacingAndGlyphs">· Subfamilias</text>
<path class="c" d="M476,739 H500"/><text class="l m" x="503" y="739">-inos/-inae</text>
<rect class="p1" x="413" y="751" width="47" height="9" rx="4.5"/><text x="436.5" y="758.5" textLength="41" lengthAdjust="spacingAndGlyphs">· Familias</text>
<path class="c" d="M468,757 H486"/><text class="l m" x="488" y="757">-sido/-sidae</text>
<path class="c" d="M469,770 H489"/><text class="l m" x="490" y="770">-idos/-idae</text>
</g>
</svg>
